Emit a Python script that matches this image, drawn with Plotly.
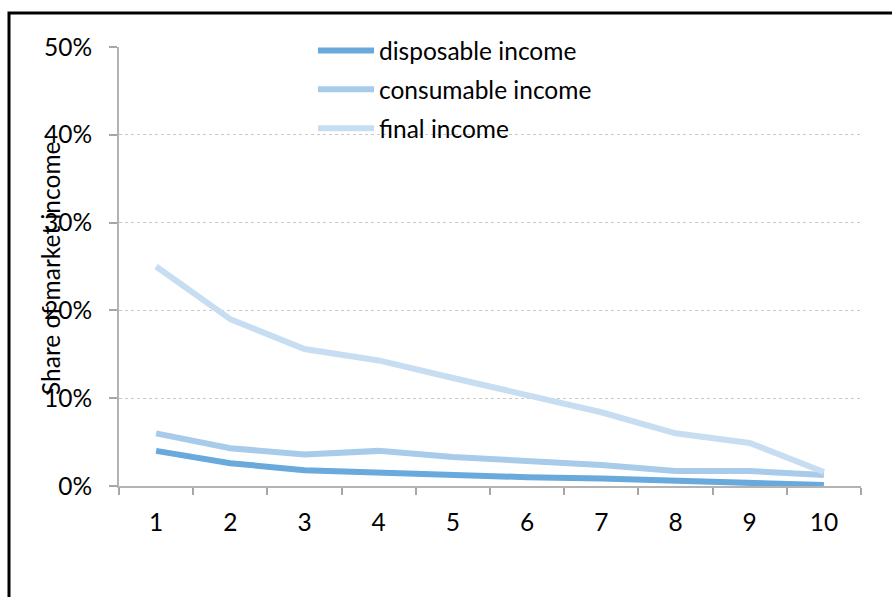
import plotly.graph_objects as go

# Income deciles and each series' share of market income (%)
deciles = ["1", "2", "3", "4", "5", "6", "7", "8", "9", "10"]
disposable = [4.0, 2.6, 1.8, 1.5, 1.25, 1.0, 0.85, 0.6, 0.4, 0.1]
consumable = [6.0, 4.3, 3.6, 4.0, 3.3, 2.8, 2.4, 1.7, 1.7, 1.25]
final = [25.0, 19.0, 15.6, 14.3, 12.3, 10.4, 8.4, 6.0, 4.9, 1.6]
y_ticks = [0, 10, 20, 30, 40, 50]
y_labels = ["0%", "10%", "20%", "30%", "40%", "50%"]

series = [
    ("disposable income", disposable, "#69a9dc"),
    ("consumable income", consumable, "#a8cbea"),
    ("final income", final, "#c7ddf1"),
]

FONT = "Lato"
FS = 24.5
W, H = 892, 597
L, R, T, B = 119, 31, 47, 111
pw, ph = W - L - R, H - T - B

fig = go.Figure()
for name, vals, color in series:
    fig.add_trace(go.Scatter(
        x=deciles, y=vals, name=name, mode="lines",
        legendgroup=name,
        line=dict(color=color, width=6),
    ))

def px_to_paper_x(px):
    return (px - L) / pw

def px_to_paper_y(py):
    return (H - B - py) / ph

fig.update_layout(
    width=W, height=H,
    margin=dict(l=L, r=R, t=T, b=B, pad=0),
    paper_bgcolor="white", plot_bgcolor="white",
    font=dict(family=FONT, size=FS, color="black"),
    showlegend=True,
    legend=dict(
        x=px_to_paper_x(313), y=px_to_paper_y(28),
        xanchor="left", yanchor="top",
        bgcolor="rgba(0,0,0,0)",
        font=dict(family=FONT, size=FS, color="black"),
        traceorder="grouped", tracegroupgap=4,
        itemwidth=56,
    ),
    xaxis=dict(
        type="category",
        range=[-0.5, 9.5],
        tickson="boundaries",
        ticks="outside", ticklen=7, tickwidth=2, tickcolor="#a6a6a6",
        showline=True, linecolor="#b3b3b3", linewidth=2,
        showgrid=False, zeroline=False,
        ticklabelstandoff=14,
        tickfont=dict(family=FONT, size=FS, color="black"),
    ),
    yaxis=dict(
        range=[0, 50],
        tickmode="array", tickvals=y_ticks, ticktext=y_labels,
        ticks="outside", ticklen=8, tickwidth=2, tickcolor="#a6a6a6",
        showline=True, linecolor="#b3b3b3", linewidth=2,
        showgrid=True, gridcolor="#c8c8c8", griddash="dot", gridwidth=1,
        zeroline=False,
        ticklabelstandoff=12,
        tickfont=dict(family=FONT, size=FS, color="black"),
    ),
)

# Axis title, drawn over the tick labels as in the original layout
fig.add_annotation(
    text="Share of market income",
    xref="paper", yref="paper",
    x=px_to_paper_x(50), y=px_to_paper_y(268),
    xanchor="center", yanchor="middle",
    textangle=-90, showarrow=False,
    font=dict(family=FONT, size=FS, color="black"),
)

# Outer frame around the chart
fig.add_shape(
    type="rect", xref="paper", yref="paper",
    x0=px_to_paper_x(9), x1=px_to_paper_x(905),
    y0=px_to_paper_y(610), y1=px_to_paper_y(13),
    line=dict(color="black", width=3), fillcolor="rgba(0,0,0,0)",
    layer="above",
)

fig.write_html("out.html")
